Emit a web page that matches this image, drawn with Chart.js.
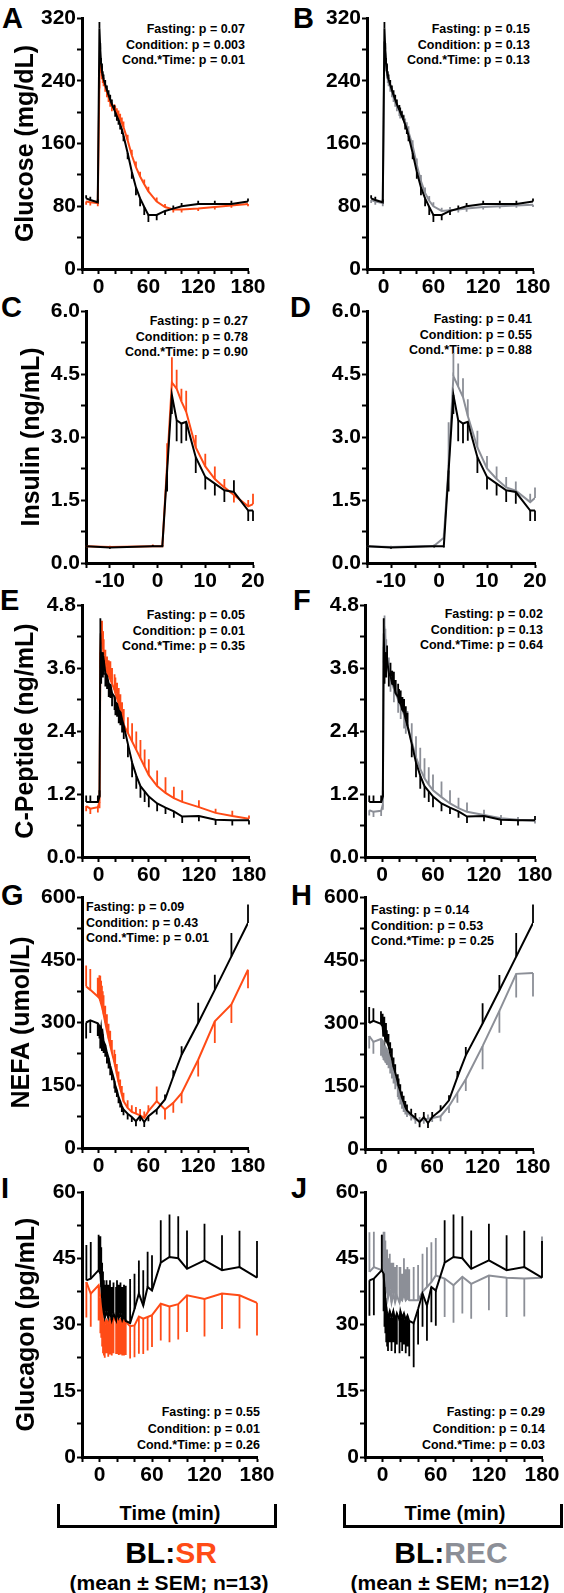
<!DOCTYPE html>
<html>
<head>
<meta charset="utf-8">
<script src="https://cdn.jsdelivr.net/npm/chart.js@4.4.1/dist/chart.umd.min.js"></script>
<style>
  body { margin: 0; width: 564px; height: 1593px; position: relative; overflow: hidden; background: #fff;
         font-family: 'Liberation Sans', Arial, Helvetica, sans-serif; font-weight: bold; color: #000; }
  canvas { position: absolute; }
  .L { position: absolute; font-size: 29px; line-height: 29px; }
  .p { position: absolute; font-size: 12.5px; line-height: 15.5px; white-space: nowrap; }
  .r { text-align: right; }
  .t { position: absolute; text-align: center; white-space: nowrap; }
  .br { position: absolute; box-sizing: border-box; border: 3px solid #000; border-top: none; height: 24px; width: 220px; top: 1504px; }
</style>
</head>
<body>
<div class="L" style="left:2px;top:3.5px">A</div>
<div class="L" style="left:293px;top:3.5px">B</div>
<div class="L" style="left:1px;top:292.5px">C</div>
<div class="L" style="left:290px;top:293px">D</div>
<div class="L" style="left:0px;top:585.5px">E</div>
<div class="L" style="left:293px;top:585.5px">F</div>
<div class="L" style="left:1px;top:880.5px">G</div>
<div class="L" style="left:291px;top:880.5px">H</div>
<div class="L" style="left:1px;top:1173.5px">I</div>
<div class="L" style="left:291px;top:1173.5px">J</div>

<div class="p r" style="right:319px;top:22px">Fasting: p = 0.07<br>Condition: p = 0.003<br>Cond.*Time: p = 0.01</div>
<div class="p r" style="right:34px;top:22px">Fasting: p = 0.15<br>Condition: p = 0.13<br>Cond.*Time: p = 0.13</div>
<div class="p r" style="right:316px;top:314px">Fasting: p = 0.27<br>Condition: p = 0.78<br>Cond.*Time: p = 0.90</div>
<div class="p r" style="right:32px;top:312px">Fasting: p = 0.41<br>Condition: p = 0.55<br>Cond.*Time: p = 0.88</div>
<div class="p r" style="right:319px;top:608px">Fasting: p = 0.05<br>Condition: p = 0.01<br>Cond.*Time: p = 0.35</div>
<div class="p r" style="right:21px;top:607px">Fasting: p = 0.02<br>Condition: p = 0.13<br>Cond.*Time: p = 0.64</div>
<div class="p" style="left:86px;top:900px">Fasting: p = 0.09<br>Condition: p = 0.43<br>Cond.*Time: p = 0.01</div>
<div class="p" style="left:371px;top:903px">Fasting: p = 0.14<br>Condition: p = 0.53<br>Cond.*Time: p = 0.25</div>
<div class="p r" style="right:304px;top:1404px;line-height:16.5px">Fasting: p = 0.55<br>Condition: p = 0.01<br>Cond.*Time: p = 0.26</div>
<div class="p r" style="right:19px;top:1404px;line-height:16.5px">Fasting: p = 0.29<br>Condition: p = 0.14<br>Cond.*Time: p = 0.03</div>

<div class="br" style="left:57px"></div>
<div class="br" style="left:343px"></div>
<div class="t" style="left:70px;width:200px;top:1501px;font-size:20px;line-height:24px">Time (min)</div>
<div class="t" style="left:355px;width:200px;top:1501px;font-size:20px;line-height:24px">Time (min)</div>
<div class="t" style="left:71px;width:200px;top:1536px;font-size:30px;line-height:34px">BL:<span style="color:#ff4b16">SR</span></div>
<div class="t" style="left:351px;width:200px;top:1536px;font-size:30px;line-height:34px">BL:<span style="color:#8c8f97">REC</span></div>
<div class="t" style="left:19px;width:300px;top:1571px;font-size:21px;line-height:24px">(mean ± SEM; n=13)</div>
<div class="t" style="left:300px;width:300px;top:1571px;font-size:21px;line-height:24px">(mean ± SEM; n=12)</div>

<script>
const SR = '#ff4b16';
const REC = '#8c8f97';

// sampling times (min)
const TIME = [-15, -10, -1, 1, 2, 3, 4, 5, 6, 8, 10, 12, 14, 16, 19, 20, 22, 24, 26, 28, 30,
              35, 40, 45, 50, 55, 60, 70, 80, 90, 100, 120, 140, 160, 180];
const TIME_INS = [-15, -10, -1, 1, 2, 3, 4, 5, 6, 8, 10, 12, 14, 16, 19, 20];

// glucose (mg/dL)
const glucoseBL = [90, 88, 85, 307, 280, 262, 252, 246, 242, 235, 228, 222, 216, 210, 203, 200, 195, 190, 184, 178, 170,
                   148, 124, 104, 90, 79, 69, 69, 74, 77, 80, 83, 83, 83, 86];
const glucoseBLsem = [4, 4, 4, 8, 8, 7, 7, 6, 6, 6, 6, 6, 6, 6, 6, 6, 6, 6, 6, 6, 7, 8, 9, 10, 10, 10, 9, 7, 5, 4, 4, 4, 4, 4, 4];
const glucoseSR = [86, 85, 84, 240, 268, 258, 250, 244, 240, 233, 226, 220, 214, 208, 203, 201, 198, 195, 191, 186, 181,
                   164, 145, 130, 118, 108, 99, 86, 79, 76, 76, 77, 79, 81, 83];
const glucoseSRsem = [4, 4, 4, 10, 9, 8, 8, 7, 7, 7, 7, 7, 7, 7, 7, 7, 7, 7, 7, 7, 7, 7, 7, 7, 6, 6, 6, 5, 4, 4, 4, 3, 3, 3, 3];
const glucoseREC = [88, 86, 84, 290, 275, 260, 250, 244, 240, 233, 226, 220, 214, 208, 202, 199, 195, 190, 185, 180, 175,
                    157, 133, 112, 97, 87, 80, 74, 75, 76, 77, 79, 80, 81, 82];
const glucoseRECsem = [4, 4, 4, 9, 8, 8, 7, 7, 7, 7, 7, 7, 7, 7, 7, 7, 7, 7, 7, 7, 7, 7, 8, 8, 7, 6, 5, 4, 4, 4, 4, 3, 3, 3, 3];

// insulin (ng/mL)
const insulinBL = [0.40, 0.37, 0.40, 0.40, 2.2, 4.0, 3.4, 3.32, 3.36, 2.52, 2.05, 1.89, 1.73, 1.69, 1.25, 1.25];
const insulinBLsem = [0.03, 0.03, 0.03, 0.03, 0.5, 0.45, 0.5, 0.47, 0.45, 0.38, 0.3, 0.28, 0.28, 0.28, 0.25, 0.25];
const insulinSR = [0.40, 0.38, 0.40, 0.40, 2.35, 4.3, 4.15, 3.85, 3.6, 2.75, 2.3, 2.0, 1.8, 1.62, 1.35, 1.4];
const insulinSRsem = [0.03, 0.03, 0.04, 0.03, 0.5, 0.6, 0.45, 0.3, 0.5, 0.3, 0.3, 0.3, 0.2, 0.18, 0.15, 0.25];
const insulinREC = [0.40, 0.38, 0.41, 0.6, 2.3, 4.45, 4.2, 3.95, 3.5, 2.75, 2.25, 2.0, 1.8, 1.72, 1.45, 1.55];
const insulinRECsem = [0.03, 0.03, 0.03, 0.1, 1.05, 0.55, 0.55, 0.45, 0.4, 0.4, 0.3, 0.3, 0.25, 0.22, 0.2, 0.25];

// C-peptide (ng/mL)
const cpepBL = [1.05, 1.05, 1.05, 1.15, 4.25, 3.6, 3.9, 3.7, 3.75, 3.5, 3.45, 3.3, 3.28, 3.12, 3.05, 2.95, 2.92, 2.8, 2.76, 2.62, 2.5,
                2.15, 1.8, 1.55, 1.35, 1.25, 1.15, 1.02, 0.94, 0.87, 0.77, 0.78, 0.71, 0.70, 0.70];
const cpepBLsem = [0.12, 0.12, 0.12, 0.12, 0.3, 0.3, 0.3, 0.28, 0.28, 0.25, 0.25, 0.25, 0.25, 0.25, 0.25, 0.25, 0.25, 0.25, 0.25, 0.25, 0.25,
                   0.25, 0.28, 0.25, 0.22, 0.2, 0.2, 0.15, 0.12, 0.12, 0.12, 0.1, 0.1, 0.1, 0.08];
const cpepSR = [0.97, 0.92, 0.95, 1.05, 3.9, 4.35, 4.3, 4.0, 3.85, 3.65, 3.52, 3.45, 3.38, 3.3, 3.18, 3.12, 3.02, 2.92, 2.8, 2.65, 2.52,
                2.36, 2.2, 2.04, 1.88, 1.72, 1.56, 1.35, 1.22, 1.12, 1.05, 0.95, 0.84, 0.78, 0.73];
const cpepSRsem = [0.1, 0.1, 0.1, 0.12, 0.3, 0.15, 0.2, 0.3, 0.3, 0.3, 0.3, 0.3, 0.35, 0.3, 0.3, 0.3, 0.3, 0.3, 0.3, 0.3, 0.3,
                   0.3, 0.35, 0.35, 0.35, 0.33, 0.3, 0.3, 0.3, 0.22, 0.22, 0.13, 0.08, 0.1, 0.06];
const cpepREC = [0.89, 0.86, 0.88, 1.0, 4.0, 4.4, 4.1, 3.9, 3.75, 3.55, 3.4, 3.3, 3.2, 3.12, 3.0, 2.95, 2.88, 2.8, 2.7, 2.6, 2.5,
                 2.2, 1.9, 1.68, 1.5, 1.38, 1.27, 1.14, 1.02, 0.93, 0.86, 0.8, 0.74, 0.71, 0.69];
const cpepRECsem = [0.1, 0.1, 0.1, 0.1, 0.3, 0.2, 0.25, 0.25, 0.25, 0.25, 0.25, 0.25, 0.25, 0.25, 0.25, 0.25, 0.25, 0.25, 0.25, 0.25, 0.28,
                    0.35, 0.4, 0.4, 0.38, 0.33, 0.3, 0.3, 0.25, 0.2, 0.18, 0.1, 0.06, 0.05, 0.05];

// NEFA (umol/L)
const nefaBL = [300, 305, 298, 292, 268, 285, 262, 272, 255, 246, 228, 215, 196, 182, 160, 150, 138, 122, 112, 100, 92,
                82, 74, 64, 76, 62, 76, 92, 116, 171, 223, 299, 378, 458, 538];
const nefaBLsem = [38, 30, 30, 30, 30, 30, 30, 28, 28, 28, 26, 25, 22, 20, 18, 18, 16, 15, 15, 14, 14,
                   14, 12, 12, 12, 12, 12, 12, 12, 15, 20, 48, 36, 56, 44];
const nefaSR = [386, 378, 362, 358, 352, 345, 338, 330, 320, 300, 280, 262, 245, 228, 205, 195, 176, 158, 142, 128, 112,
                96, 86, 82, 78, 72, 88, 112, 92, 108, 131, 211, 303, 343, 426];
const nefaSRsem = [50, 50, 45, 55, 60, 55, 50, 45, 45, 40, 40, 35, 35, 30, 30, 30, 25, 25, 22, 20, 20,
                   18, 16, 16, 15, 15, 14, 35, 24, 24, 24, 40, 52, 44, 44];
const nefaREC = [269, 255, 262, 258, 252, 248, 244, 240, 236, 226, 212, 198, 184, 168, 148, 140, 126, 114, 104, 96, 88,
                 78, 70, 66, 70, 72, 74, 78, 102, 134, 166, 245, 329, 417, 419];
const nefaRECsem = [30, 28, 40, 40, 40, 38, 38, 36, 36, 34, 32, 30, 28, 26, 24, 22, 20, 18, 16, 14, 12,
                    10, 10, 10, 10, 10, 10, 12, 16, 24, 28, 55, 52, 56, 56];

// glucagon (pg/mL)
const glucagonBL = [40.0, 40.4, 42.3, 41.5, 38.5, 36, 34, 32.5, 31.5, 33, 31.5, 33, 31, 32.5, 31, 33, 31.5, 32.5, 31, 32, 30.8,
                    30.3, 33.5, 37, 34.3, 38.5, 37.7, 44, 45.3, 45, 42.6, 44.5, 42.3, 43, 40.6];
const glucagonBLsem = [8, 8.3, 8, 8.5, 9, 8, 8, 7.5, 7.5, 7, 7.5, 7, 7.5, 7, 7.5, 7, 7.5, 7, 7.5, 7, 8,
                       10, 8, 7.5, 8, 8, 8, 9.6, 9.6, 9.5, 8.7, 8.3, 7.9, 8.2, 8.3];
const glucagonSR = [39.6, 37, 38.9, 36, 35, 33, 31, 30.5, 30, 31, 30.2, 31.2, 30.5, 31.5, 30.8, 31.3, 30.6, 31.2, 30.5, 31, 30.6,
                    29.6, 29.8, 31.8, 31.3, 31.7, 32.1, 34.7, 34.1, 34.6, 36.6, 35.8, 37, 36.6, 34.9];
const glucagonSRsem = [8, 7.5, 8, 8, 8, 8, 7.5, 7.5, 7.5, 7.5, 7.5, 8, 7.5, 8, 7.5, 8, 7.5, 8, 7.5, 8, 7.5,
                       7.3, 7.2, 8.4, 8, 7.6, 7.2, 8.3, 8.1, 8, 8.3, 8.5, 8, 7.5, 7.4];
const glucagonREC = [41.9, 43, 42.3, 44, 42, 40, 38, 39, 36, 38, 35, 37, 35, 36.5, 35, 36, 35.5, 37, 35.5, 36, 35.5,
                     35.5, 35.5, 37.4, 38.5, 39.6, 41.1, 40.4, 38.9, 40.8, 39.2, 41.1, 40.6, 40.4, 40.6];
const glucagonRECsem = [9, 8, 8, 7, 9, 9, 9, 8, 9, 8, 9, 7, 8, 7, 8, 7, 6, 8, 7, 7, 7,
                        7.5, 8, 8.6, 9, 9, 8.5, 8.7, 8.5, 8.3, 7.9, 7.9, 8.9, 8.6, 9.3];

Chart.defaults.font.family = "'Liberation Sans', Arial, Helvetica, sans-serif";
Chart.defaults.font.weight = 'bold';
Chart.defaults.color = '#000';

// one-sided SEM bars: up when the series is above the other one, down otherwise
const errorBars = {
  id: 'errorBars',
  afterDatasetDraw(chart, args) {
    const ds = chart.data.datasets[args.index];
    const other = chart.data.datasets[1 - args.index].data;
    const { ctx, chartArea: a, scales: { x, y } } = chart;
    ctx.save();
    ctx.beginPath();
    ctx.rect(a.left - 2, a.top - 2, a.width + 4, a.height + 2);
    ctx.clip();
    ctx.strokeStyle = ds.borderColor;
    ctx.lineWidth = 1.8;
    ctx.beginPath();
    ds.data.forEach((p, i) => {
      const dir = p.y >= other[i].y ? 1 : -1;
      const px = x.getPixelForValue(p.x);
      ctx.moveTo(px, y.getPixelForValue(p.y));
      ctx.lineTo(px, y.getPixelForValue(p.y + dir * ds.sem[i]));
    });
    ctx.stroke();
    ctx.restore();
  }
};

const isMajor = (v, m) => Math.abs(v / m - Math.round(v / m)) < 1e-6;

function makePanel(p) {
  const cx = p.col ? 282 : 0, cw = 282;
  const [L, T, R, B] = p.area;
  const cy = T - 20, ch = B - T + 55;
  const canvas = document.createElement('canvas');
  canvas.width = cw;
  canvas.height = ch;
  canvas.style.cssText = `left:${cx}px;top:${cy}px;width:${cw}px;height:${ch}px`;
  document.body.appendChild(canvas);

  const tickGrid = { drawOnChartArea: false, tickLength: 5, tickWidth: 2, tickColor: '#000' };
  new Chart(canvas, {
    type: 'line',
    data: {
      datasets: [
        { data: p.time.map((t, i) => ({ x: t, y: p.bl[i] })), sem: p.blSem, borderColor: '#000' },
        { data: p.time.map((t, i) => ({ x: t, y: p.cond[i] })), sem: p.condSem, borderColor: p.color }
      ]
    },
    options: {
      responsive: false,
      animation: false,
      events: [],
      layout: { padding: { left: 0, top: 20, right: cx + cw - R, bottom: 0 } },
      elements: { line: { borderWidth: 2, tension: 0, fill: false }, point: { radius: 0 } },
      plugins: { legend: { display: false }, tooltip: { enabled: false } },
      scales: {
        x: {
          type: 'linear', min: p.xmin, max: p.xmax,
          afterFit: s => { s.height = 35; },
          border: { width: 3, color: '#000' },
          grid: tickGrid,
          ticks: { stepSize: p.xstep, autoSkip: false, maxRotation: 0, padding: 1, font: { size: 21 },
                   callback: v => isMajor(v, p.xmajor) ? String(v) : '' }
        },
        y: {
          min: 0, max: p.ymax,
          afterFit: s => { s.width = L - cx; },
          border: { width: 3, color: '#000' },
          grid: tickGrid,
          title: { display: !!p.title, text: p.title, font: { size: 25 }, padding: { top: p.tpad || 0, bottom: 0 } },
          ticks: { stepSize: p.ystep, autoSkip: false, padding: 1, font: { size: 21 },
                   callback: v => isMajor(v, p.ymajor) ? v.toFixed(p.dec) : '' }
        }
      }
    },
    plugins: [errorBars]
  });
}

const long = { time: TIME, xmin: -20, xmax: 180, xstep: 20, xmajor: 60 };
const short = { time: TIME_INS, xmin: -15, xmax: 20, xstep: 5, xmajor: 10 };
const glu = { ymax: 320, ystep: 40, ymajor: 80, dec: 0, bl: glucoseBL, blSem: glucoseBLsem };
const ins = { ymax: 6, ystep: 0.75, ymajor: 1.5, dec: 1, bl: insulinBL, blSem: insulinBLsem };
const cpe = { ymax: 4.8, ystep: 0.6, ymajor: 1.2, dec: 1, bl: cpepBL, blSem: cpepBLsem };
const nef = { ymax: 600, ystep: 75, ymajor: 150, dec: 0, bl: nefaBL, blSem: nefaBLsem };
const gcg = { ymax: 60, ystep: 7.5, ymajor: 15, dec: 0, bl: glucagonBL, blSem: glucagonBLsem };

[
  { ...long, ...glu, col: 0, area: [82, 18, 248, 269], title: 'Glucose (mg/dL)', tpad: 11, cond: glucoseSR, condSem: glucoseSRsem, color: SR },
  { ...long, ...glu, col: 1, area: [367, 18, 533, 269], cond: glucoseREC, condSem: glucoseRECsem, color: REC },
  { ...short, ...ins, col: 0, area: [86, 311, 253, 563], title: 'Insulin (ng/mL)', tpad: 17, cond: insulinSR, condSem: insulinSRsem, color: SR },
  { ...short, ...ins, col: 1, area: [367, 311, 535, 563], cond: insulinREC, condSem: insulinRECsem, color: REC },
  { ...long, ...cpe, col: 0, area: [82, 605, 249, 857], title: 'C-Peptide (ng/mL)', tpad: 11, cond: cpepSR, condSem: cpepSRsem, color: SR },
  { ...long, ...cpe, col: 1, area: [365, 605, 535, 857], cond: cpepREC, condSem: cpepRECsem, color: REC },
  { ...long, ...nef, col: 0, area: [82, 897, 248, 1148], title: 'NEFA (umol/L)', tpad: 7, cond: nefaSR, condSem: nefaSRsem, color: SR },
  { ...long, ...nef, col: 1, area: [365, 897, 533, 1149], cond: nefaREC, condSem: nefaRECsem, color: REC },
  { ...long, ...gcg, col: 0, area: [82, 1192, 257, 1457], title: 'Glucagon (pg/mL)', tpad: 12, cond: glucagonSR, condSem: glucagonSRsem, color: SR },
  { ...long, ...gcg, col: 1, area: [365, 1192, 542, 1457], cond: glucagonREC, condSem: glucagonRECsem, color: REC }
].forEach(makePanel);
</script>
</body>
</html>
